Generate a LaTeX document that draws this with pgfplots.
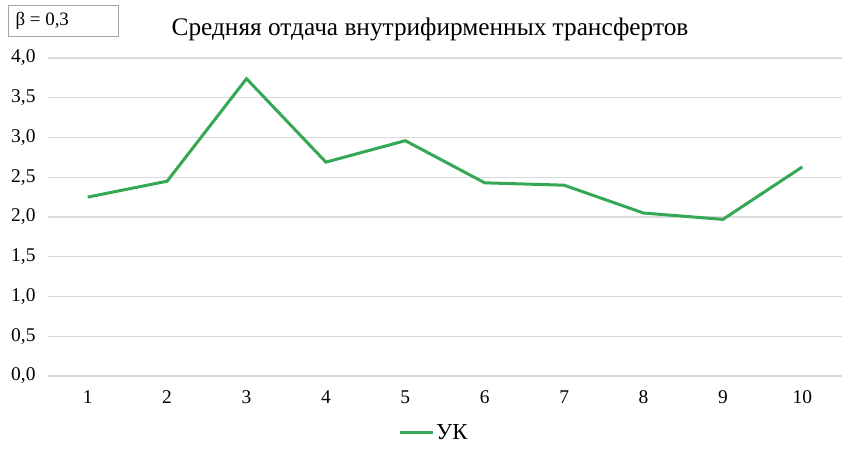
\documentclass[border=0pt]{standalone}
\usepackage{fontspec}
\setmainfont{Liberation Serif}
\usepackage{pgfplots}
\pgfplotsset{compat=1.18}
\definecolor{lineg}{RGB}{52,168,83}
\definecolor{gridg}{RGB}{217,217,217}
\begin{document}
\begin{tikzpicture}
\useasboundingbox (0,0) rectangle (849bp,452bp);
\begin{axis}[
  at={(48bp,76bp)}, anchor=south west,
  scale only axis, width=794bp, height=318bp,
  xmin=0.5, xmax=10.5, ymin=0, ymax=4,
  xtick={1,...,10}, ytick={0,0.5,...,4},
  axis line style={draw=none},
  major tick length=0pt,
  ymajorgrids, grid style={gridg, line width=1.3bp},
  /pgf/number format/.cd, use comma, fixed, fixed zerofill, precision=1, assume math mode=true,
  /pgfplots/.cd,
  xticklabel style={font=\fontsize{19.5}{21}\selectfont, /pgf/number format/precision=0, /pgf/number format/fixed zerofill=false},
  yticklabel style={font=\fontsize{19.5}{21}\selectfont},
  xtick pos=bottom,
  xticklabel shift=11bp, yticklabel shift=9bp,
  legend style={at={(0.486,-0.179)}, anchor=center, draw=none, fill=none, font=\fontsize{23}{25}\selectfont},
  legend image code/.code={\draw[#1] (0bp,0bp) -- (33bp,0bp);},
]
\addplot[lineg, line width=3bp] coordinates {
(1,2.25) (2,2.45) (3,3.74) (4,2.69) (5,2.96) (6,2.43) (7,2.40) (8,2.05) (9,1.97) (10,2.63)
};
\legend{УК}
\end{axis}
\node[font=\fontsize{25.4}{27}\selectfont] at (430bp,423bp) {Средняя отдача внутрифирменных трансфертов};
\draw[gray!70, line width=0.8bp] (8bp,416bp) rectangle (118bp,447bp);
\node[font=\fontsize{19}{21}\selectfont, anchor=west] at (12bp,431bp) {β = 0,3};
\end{tikzpicture}
\end{document}
